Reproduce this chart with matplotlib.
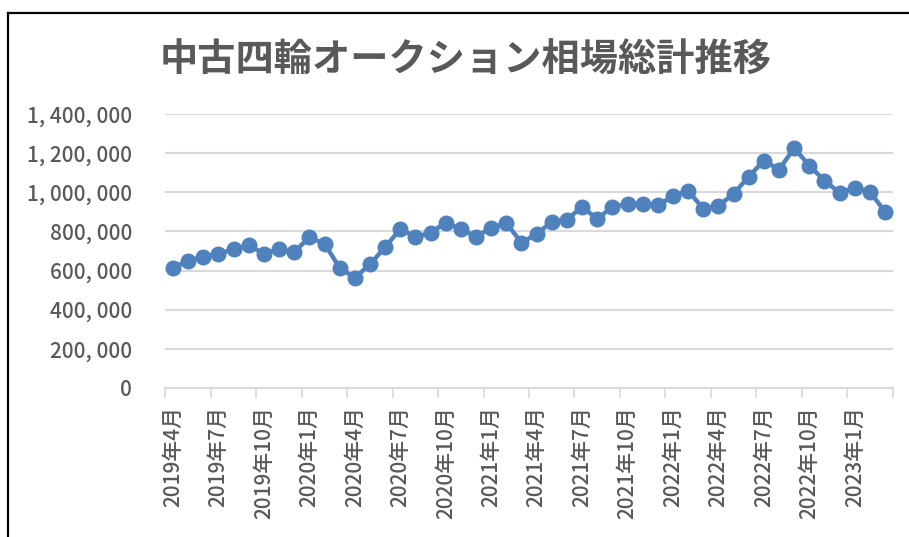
import numpy as np
import matplotlib.pyplot as plt
from matplotlib.lines import Line2D
from matplotlib.ticker import FuncFormatter, FixedLocator

plt.rcParams['font.family'] = ['Noto Sans CJK JP', 'DejaVu Sans']

# 2019年4月 - 2023年3月, monthly totals (yen)
months = []
for y in range(2019, 2024):
    for m in range(1, 13):
        if (y == 2019 and m < 4) or (y == 2023 and m > 3):
            continue
        months.append(f"{y}年{m}月")

values = [615, 650, 670, 685, 710, 730, 685, 710, 695,
          770, 737, 614, 563, 632, 720, 812, 772, 793, 845, 812, 772,
          818, 843, 742, 787, 849, 860, 926, 864, 926, 940, 940, 933,
          980, 1008, 916, 931, 992, 1080, 1162, 1115, 1226, 1136, 1060, 997,
          1023, 1003, 900]
values = [v * 1000 for v in values]

grey = '#595959'
blue = '#4f81bd'

fig = plt.figure(figsize=(9.09, 5.37), dpi=100)
ax = fig.add_axes([0.182, 0.2775, 0.8, 0.5102])

x = np.arange(len(values))
ax.plot(x, values, color=blue, lw=3.2, marker='o', ms=10.5, zorder=3)

ax.set_xlim(-0.5, len(values) - 0.5)
ax.set_ylim(0, 1400000)
ax.set_yticks(np.arange(0, 1400001, 200000))
ax.yaxis.set_major_formatter(FuncFormatter(lambda v, p: f"{int(v):,}".replace(',', ', ')))
ax.grid(axis='y', color='#d9d9d9', lw=1.5, zorder=0)

ax.set_xticks(x[::3])
ax.set_xticklabels(months[::3], rotation=90)
ax.xaxis.set_minor_locator(FixedLocator(np.arange(-0.5, len(values), 3)))
ax.tick_params(axis='x', which='major', length=0, pad=13, labelsize=15, labelcolor=grey)
ax.tick_params(axis='x', which='minor', length=7, width=1.2, color='#d9d9d9')
ax.tick_params(axis='y', length=0, pad=24, labelsize=15, labelcolor=grey)
for lab in ax.get_xticklabels() + ax.get_yticklabels():
    lab.set_fontweight('medium')

for s in ['left', 'right', 'top']:
    ax.spines[s].set_visible(False)
ax.spines['bottom'].set_color('#d9d9d9')
ax.spines['bottom'].set_linewidth(1.5)

fig.text(0.512, 0.888, "中古四輪オークション相場総計推移", ha='center', va='center',
         fontsize=27.5, fontweight='bold', color=grey)

# chart border
fig.add_artist(Line2D([8 / 909, 8 / 909], [0, 1 - 12.5 / 537], color='black', lw=1.6))
fig.add_artist(Line2D([8 / 909, 1], [1 - 12.5 / 537, 1 - 12.5 / 537], color='black', lw=1.6))

fig.savefig('out.png', dpi=100)
